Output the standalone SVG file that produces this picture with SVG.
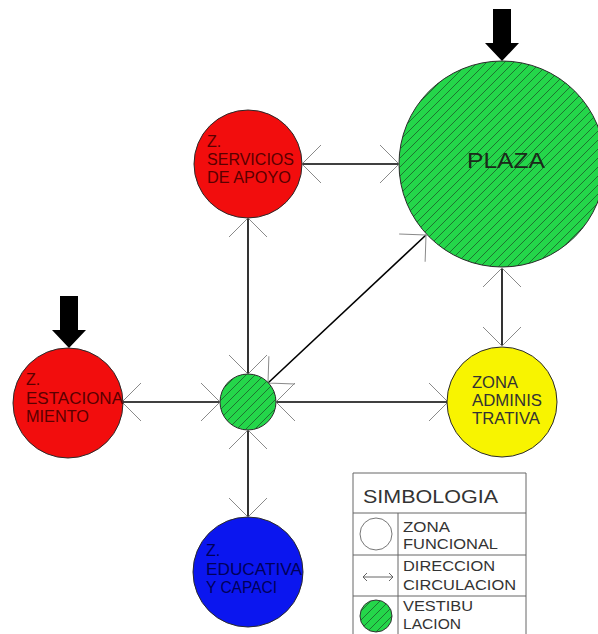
<svg xmlns="http://www.w3.org/2000/svg" width="598" height="634" viewBox="0 0 598 634">
<style>
.ln{stroke:#000;stroke-width:1.6;fill:none}
.zone{stroke:#2a2a2a;stroke-width:1}
.t{font-family:"Liberation Sans",Arial,sans-serif;font-size:16px}
.tp{font-family:"Liberation Sans",Arial,sans-serif;font-size:22px}
.lg{font-family:"Liberation Sans",Arial,sans-serif;font-size:14px;fill:#333}
.lgb{font-family:"Liberation Sans",Arial,sans-serif;font-size:18.5px;fill:#333}
.big{fill:#000}
</style>
<defs>
<pattern id="hatch" patternUnits="userSpaceOnUse" width="9" height="9">
<rect width="9" height="9" fill="#24d64a"/>
<path d="M-1,1 L1,-1 M0,9 L9,0 M8,10 L10,8" stroke="#1d5a2a" stroke-width="0.8"/>
</pattern>
<marker id="ah" markerUnits="userSpaceOnUse" viewBox="-22 -22 24 44" refX="0" refY="0" markerWidth="24" markerHeight="44" orient="auto-start-reverse" overflow="visible">
<path d="M-19,-19 L0,0 L-19,19" fill="none" stroke="#8a8a8a" stroke-width="1"/>
</marker>
<marker id="sah" markerUnits="userSpaceOnUse" viewBox="-6 -6 8 12" refX="0" refY="0" markerWidth="8" markerHeight="12" orient="auto-start-reverse" overflow="visible">
<path d="M-4,-4 L0,0 L-4,4" fill="none" stroke="#555" stroke-width="0.9"/>
</marker>
</defs>
<rect width="598" height="634" fill="#fff"/>

<g id="connectors">
<path class="ln" d="M302,164 L399,164" marker-start="url(#ah)" marker-end="url(#ah)"/>
<path class="ln" d="M248,218 L248,374" marker-start="url(#ah)" marker-end="url(#ah)"/>
<path class="ln" d="M502,268 L502,346" marker-start="url(#ah)" marker-end="url(#ah)"/>
<path class="ln" d="M122,402 L220,402" marker-start="url(#ah)" marker-end="url(#ah)"/>
<path class="ln" d="M276,402 L448,402" marker-start="url(#ah)" marker-end="url(#ah)"/>
<path class="ln" d="M248,430 L248,517" marker-start="url(#ah)" marker-end="url(#ah)"/>
<path class="ln" d="M268,383 L426,235" marker-start="url(#ah)" marker-end="url(#ah)"/>
</g>

<g id="servicios">
<circle class="zone" cx="248" cy="164" r="54" fill="#f20d0d"/>
<text class="t" fill="#5a0000" x="207" y="147">Z.</text>
<text class="t" fill="#5a0000" x="207" y="165" textLength="87" lengthAdjust="spacingAndGlyphs">SERVICIOS</text>
<text class="t" fill="#5a0000" x="207" y="183" textLength="84" lengthAdjust="spacingAndGlyphs">DE APOYO</text>
</g>

<g id="plaza">
<polygon class="big" points="493,9 511,9 511,43 519,43 502,61 485,43 493,43"/>
<circle class="zone" cx="502" cy="164" r="103" fill="url(#hatch)"/>
<text class="tp" fill="#1a2a1a" x="467" y="168" textLength="78" lengthAdjust="spacingAndGlyphs">PLAZA</text>
</g>

<g id="estacionamiento">
<polygon class="big" points="60,296 78,296 78,330 86,330 69,348 52,330 60,330"/>
<circle class="zone" cx="68" cy="403" r="55" fill="#f20d0d"/>
<text class="t" fill="#5a0000" x="26" y="385">Z.</text>
<text class="t" fill="#5a0000" x="26" y="404" textLength="97" lengthAdjust="spacingAndGlyphs">ESTACIONA</text>
<text class="t" fill="#5a0000" x="26" y="422" textLength="63" lengthAdjust="spacingAndGlyphs">MIENTO</text>
</g>

<g id="vestibulo">
<circle class="zone" cx="248" cy="402" r="28" fill="url(#hatch)"/>
</g>

<g id="administrativa">
<circle class="zone" cx="502" cy="402" r="55" fill="#f8f400"/>
<text class="t" fill="#333" x="472" y="388" textLength="46" lengthAdjust="spacingAndGlyphs">ZONA</text>
<text class="t" fill="#333" x="472" y="406" textLength="70" lengthAdjust="spacingAndGlyphs">ADMINIS</text>
<text class="t" fill="#333" x="472" y="424" textLength="68" lengthAdjust="spacingAndGlyphs">TRATIVA</text>
</g>

<g id="educativa">
<circle class="zone" cx="248" cy="572" r="55" fill="#0b16ef"/>
<text class="t" fill="#00005a" x="206" y="556">Z.</text>
<text class="t" fill="#00005a" x="206" y="575" textLength="96" lengthAdjust="spacingAndGlyphs">EDUCATIVA</text>
<text class="t" fill="#00005a" x="206" y="593" textLength="71" lengthAdjust="spacingAndGlyphs">Y CAPACI</text>
</g>

<g id="simbologia">
<path d="M353,640 L353,473 L526,473 L526,640 M353,513 L526,513 M353,555 L526,555 M353,596 L526,596 M398,513 L398,640" fill="none" stroke="#666" stroke-width="1"/>
<text class="lgb" x="363" y="503" textLength="135" lengthAdjust="spacingAndGlyphs">SIMBOLOGIA</text>
<circle cx="376" cy="534" r="16" fill="none" stroke="#777" stroke-width="1"/>
<text class="lg" x="403" y="532" textLength="47" lengthAdjust="spacingAndGlyphs">ZONA</text>
<text class="lg" x="403" y="549" textLength="95" lengthAdjust="spacingAndGlyphs">FUNCIONAL</text>
<path d="M363,577 L393,577" stroke="#555" stroke-width="0.9" marker-start="url(#sah)" marker-end="url(#sah)"/>
<text class="lg" x="403" y="571" textLength="92" lengthAdjust="spacingAndGlyphs">DIRECCION</text>
<text class="lg" x="403" y="590" textLength="113" lengthAdjust="spacingAndGlyphs">CIRCULACION</text>
<circle cx="376" cy="616" r="16" fill="url(#hatch)" stroke="#333" stroke-width="1"/>
<text class="lg" x="403" y="611" textLength="70" lengthAdjust="spacingAndGlyphs">VESTIBU</text>
<text class="lg" x="403" y="629" textLength="58" lengthAdjust="spacingAndGlyphs">LACION</text>
</g>
</svg>
